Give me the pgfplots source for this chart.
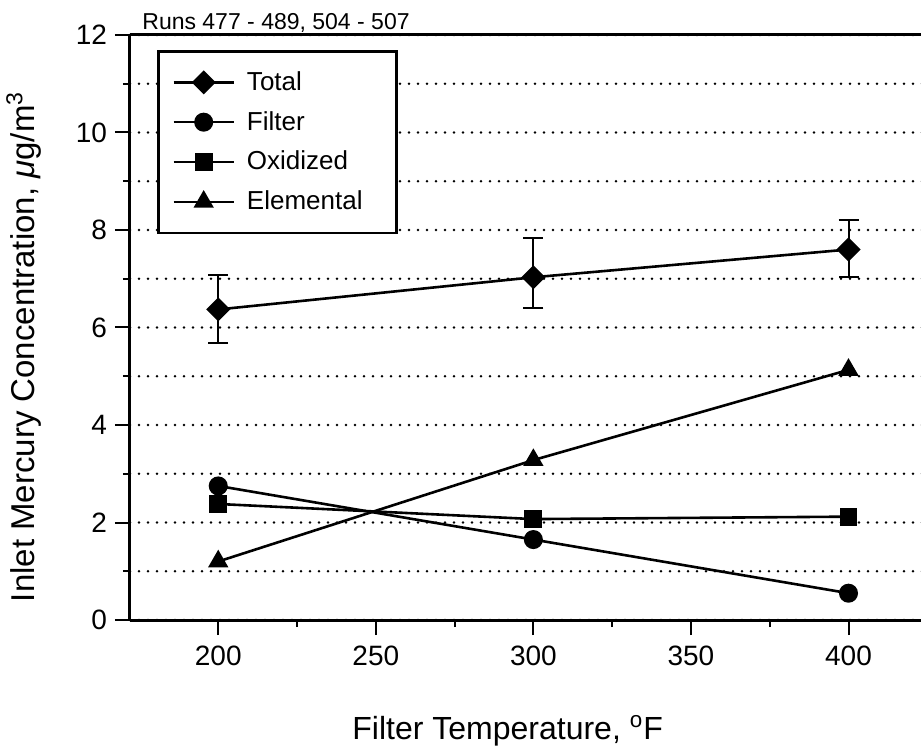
\documentclass[border=0pt]{standalone}
\usepackage{pgfplots}
\pgfplotsset{compat=1.18}
\usepackage{fontspec}
\setmainfont{Liberation Sans}
\begin{document}
\begin{tikzpicture}
\begin{axis}[
  name=ax,
  at={(0,0)}, anchor=south west,
  scale only axis, width=400pt, height=292.5pt,
  xmin=172, xmax=425.86, ymin=0, ymax=12,
  axis x line=box, axis y line=left,
  axis line style={-, line width=1.5pt, black},
  xtick pos=bottom, ytick pos=left,
  xtick={200,250,...,400}, minor xtick={225,275,325,375},
  ytick={0,2,...,12}, minor ytick={1,3,...,11},
  tick align=outside,
  tick style={black, line width=1pt},
  major tick length=7.5pt, minor tick length=3.5pt,
  ymajorgrids, yminorgrids,
  major grid style={black, line width=1.4pt, dash pattern=on 0pt off 4.5pt, line cap=round},
  minor grid style={black, line width=1.4pt, dash pattern=on 0pt off 4.5pt, line cap=round},
  /pgf/number format/assume math mode=true,
  ticklabel style={font=\fontsize{14}{16}\selectfont},
  xticklabel style={yshift=-2pt},
  yticklabel style={xshift=-0.5pt},
  xlabel={Filter Temperature, \textsuperscript{o}F},
  ylabel={Inlet Mercury Concentration, {\itshape μ}g/m\textsuperscript{3}},
  xlabel style={font=\fontsize{16}{18}\selectfont, at={(axis description cs:0.472,-0.205)}, anchor=base},
  ylabel style={font=\fontsize{16.5}{18}\selectfont, at={(axis description cs:-0.119,0.467)}, anchor=base},
  legend style={at={(axis description cs:0.034,0.974)}, anchor=north west,
    draw=black, line width=1.2pt, fill=white,
    font=\fontsize{13}{15}\selectfont, row sep=5pt, column sep=4pt,
    inner xsep=7pt, inner ysep=8pt},
  legend cell align=left,
  legend image code/.code={\draw[mark repeat=2,mark phase=2] plot coordinates {(0pt,0pt) (15pt,0pt) (30pt,0pt)};},
  every axis plot/.append style={black, line width=1.3pt},
]
\addplot[mark=square*, mark size=3.6pt, mark options={solid, fill=black, rotate=45},
  error bars/.cd, y dir=both, y explicit,
  error bar style={line width=1pt},
  error mark options={rotate=90, mark size=5pt, line width=1pt}]
  table[x=x, y=y, y error plus=ep, y error minus=em] {
x y ep em
200 6.37 0.70 0.68
300 7.03 0.80 0.63
400 7.60 0.60 0.57
};
\addlegendentry{Total}
\addplot[mark=*, mark size=4.1pt, mark options={solid, fill=black}]
  coordinates {(200,2.75) (300,1.65) (400,0.55)};
\addlegendentry{Filter}
\addplot[mark=square*, mark size=3.8pt, mark options={solid, fill=black}]
  coordinates {(200,2.38) (300,2.07) (400,2.12)};
\addlegendentry{Oxidized}
\addplot[mark=triangle*, mark size=4.6pt, mark options={solid, fill=black}]
  coordinates {(200,1.20) (300,3.28) (400,5.13)};
\addlegendentry{Elemental\hspace*{8pt}}
\end{axis}
\node[anchor=base west, inner sep=0pt, font=\fontsize{11.5}{13}\selectfont] at ([xshift=6pt, yshift=2.5pt]ax.north west) {Runs 477 - 489, 504 - 507};
\pgfresetboundingbox
\path[use as bounding box] (-65pt,-65pt) rectangle (395.5pt,310pt);
\end{tikzpicture}
\end{document}
